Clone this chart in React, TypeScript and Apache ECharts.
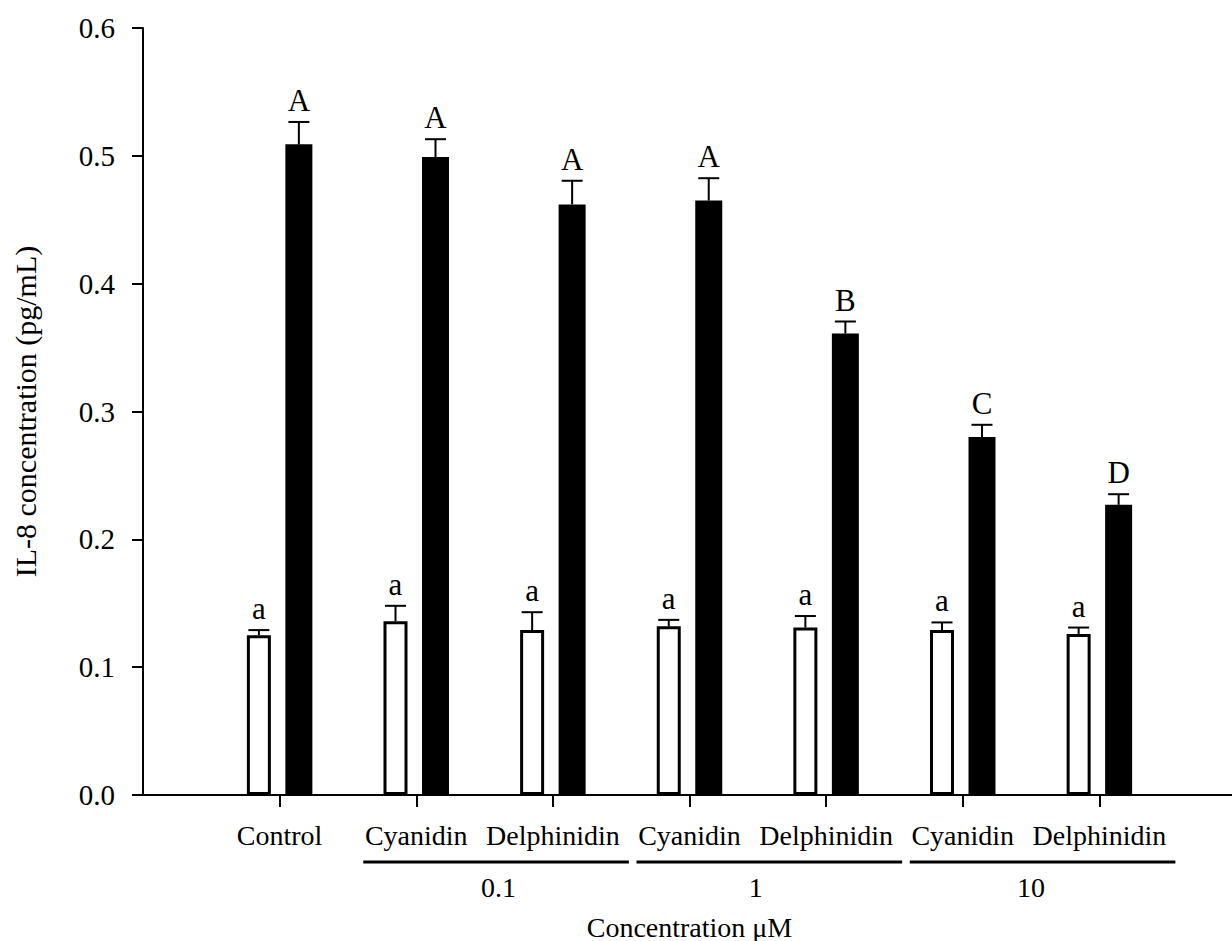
import React, { useEffect, useRef } from "react";
import * as echarts from "echarts";

// ---- data ----
const categories = ["Control", "Cyanidin", "Delphinidin", "Cyanidin", "Delphinidin", "Cyanidin", "Delphinidin"];
const whiteValues = [0.125, 0.136, 0.129, 0.132, 0.131, 0.129, 0.126];
const whiteErrors = [0.004, 0.012, 0.014, 0.005, 0.009, 0.006, 0.005];
const blackValues = [0.509, 0.499, 0.462, 0.465, 0.361, 0.280, 0.227];
const blackErrors = [0.0175, 0.014, 0.0185, 0.0175, 0.0094, 0.0096, 0.0083];
const whiteLetters = ["a", "a", "a", "a", "a", "a", "a"];
const blackLetters = ["A", "A", "A", "A", "B", "C", "D"];
// indices into `categories`
const groups = [
  { label: "0.1", from: 1, to: 2 },
  { label: "1", from: 3, to: 4 },
  { label: "10", from: 5, to: 6 },
];
const yTicks = [0, 0.1, 0.2, 0.3, 0.4, 0.5, 0.6];

const FONT = "'Liberation Serif', 'Times New Roman', serif";

// bar geometry (style)
const W_WHITE = 24;
const W_BLACK = 27;
const GAP = 0.604;
const widthSum = W_WHITE * (1 + GAP) + W_BLACK;
const DX_WHITE = -widthSum / 2 + W_WHITE / 2;
const DX_BLACK = -widthSum / 2 + W_WHITE * (1 + GAP) + W_BLACK / 2;

// padded with empty categories at both ends so the first real one sits one band away from the y axis
const axisCats = ["", ...categories, ""];
const pad = (arr: (number | null)[]) => [null, ...arr, null];

function errSeries(values: number[], errors: number[], letters: string[], dx: number, name: string) {
  return {
    type: "custom",
    name,
    z: 5,
    data: values.map((v, i) => [i + 1, v, errors[i]]),
    renderItem: (params: any, api: any) => {
      const idx = api.value(0);
      const v = api.value(1);
      const e = api.value(2);
      const base = api.coord([idx, v]);
      const top = api.coord([idx, v + e]);
      const x = base[0] + dx;
      const letter = letters[params.dataIndex];
      return {
        type: "group",
        children: [
          { type: "line", shape: { x1: x, y1: base[1], x2: x, y2: top[1] }, style: { stroke: "#000", lineWidth: 2 } },
          { type: "line", shape: { x1: x - 10.5, y1: top[1], x2: x + 10.5, y2: top[1] }, style: { stroke: "#000", lineWidth: 2 } },
          {
            type: "text",
            style: {
              text: letter,
              x: x,
              y: top[1] - 6,
              align: "center",
              verticalAlign: "bottom",
              textAlign: "center",
              textVerticalAlign: "bottom",
              fill: "#000",
              fontSize: 31,
              fontFamily: FONT,
            },
          },
        ],
      };
    },
  };
}

export default function App() {
  const ref = useRef<HTMLDivElement>(null);
  useEffect(() => {
    document.body.style.margin = "0";
    if (!ref.current) return;
    const chart = echarts.init(ref.current, undefined, { renderer: "svg" });
    const realIdx = (i: number) => i > 0 && i < axisCats.length - 1;
    chart.setOption({
      animation: false,
      backgroundColor: "#fff",
      grid: { left: 143, right: -4, top: 28, bottom: 146, containLabel: false, outerBoundsMode: "none" },
      xAxis: {
        type: "category",
        data: axisCats,
        boundaryGap: false,
        name: "Concentration \u03bcM",
        nameLocation: "middle",
        nameGap: 118,
        nameTextStyle: { fontFamily: FONT, fontSize: 28, color: "#000" },
        axisLine: { show: true, lineStyle: { color: "#000", width: 2 } },
        axisTick: { show: true, length: 12, lineStyle: { color: "#000", width: 2 }, interval: (i: number) => realIdx(i) },
        axisLabel: { fontFamily: FONT, fontSize: 28, color: "#000", margin: 26, interval: (i: number) => realIdx(i) },
        splitLine: { show: false },
      },
      yAxis: {
        type: "value",
        min: yTicks[0],
        max: yTicks[yTicks.length - 1],
        interval: 0.1,
        name: "IL-8 concentration (pg/mL)",
        nameLocation: "middle",
        nameGap: 103,
        nameTextStyle: { fontFamily: FONT, fontSize: 30, color: "#000" },
        axisLine: { show: true, lineStyle: { color: "#000", width: 2 } },
        axisTick: { show: true, length: 11, lineStyle: { color: "#000", width: 2 } },
        axisLabel: { fontFamily: FONT, fontSize: 29, color: "#000", margin: 28, formatter: (v: number) => v.toFixed(1) },
        splitLine: { show: false },
      },
      series: [
        {
          type: "bar",
          name: "white",
          data: pad(whiteValues),
          barWidth: W_WHITE,
          barGap: GAP * 100 + "%",
          itemStyle: { color: "#fff", borderColor: "#000", borderWidth: 3 },
          z: 3,
        },
        {
          type: "bar",
          name: "black",
          data: pad(blackValues),
          barWidth: W_BLACK,
          barGap: GAP * 100 + "%",
          itemStyle: { color: "#000", borderColor: "#000", borderWidth: 0 },
          z: 3,
        },
        errSeries(whiteValues, whiteErrors, whiteLetters, DX_WHITE, "errWhite"),
        errSeries(blackValues, blackErrors, blackLetters, DX_BLACK, "errBlack"),
      ],
    });

    const labelDx = [14, -2, 0];
    const graphics: any[] = [];
    groups.forEach((g, gi) => {
      // +1 because of the empty padding category at the start of the axis
      const x1 = chart.convertToPixel({ xAxisIndex: 0 }, g.from + 1) as number;
      const x2 = chart.convertToPixel({ xAxisIndex: 0 }, g.to + 1) as number;
      graphics.push({
        type: "line",
        shape: { x1: x1 - 53, y1: 862, x2: x2 + 76, y2: 862 },
        style: { stroke: "#000", lineWidth: 3 },
      });
      graphics.push({
        type: "text",
        x: (x1 + x2) / 2 + labelDx[gi],
        y: 887,
        style: {
          text: g.label,
          align: "center",
          verticalAlign: "middle",
          fill: "#000",
          fontSize: 28,
          fontFamily: FONT,
        },
      });
    });
    chart.setOption({ graphic: graphics });

    return () => chart.dispose();
  }, []);
  return <div ref={ref} style={{ width: 1232, height: 941 }} />;
}
